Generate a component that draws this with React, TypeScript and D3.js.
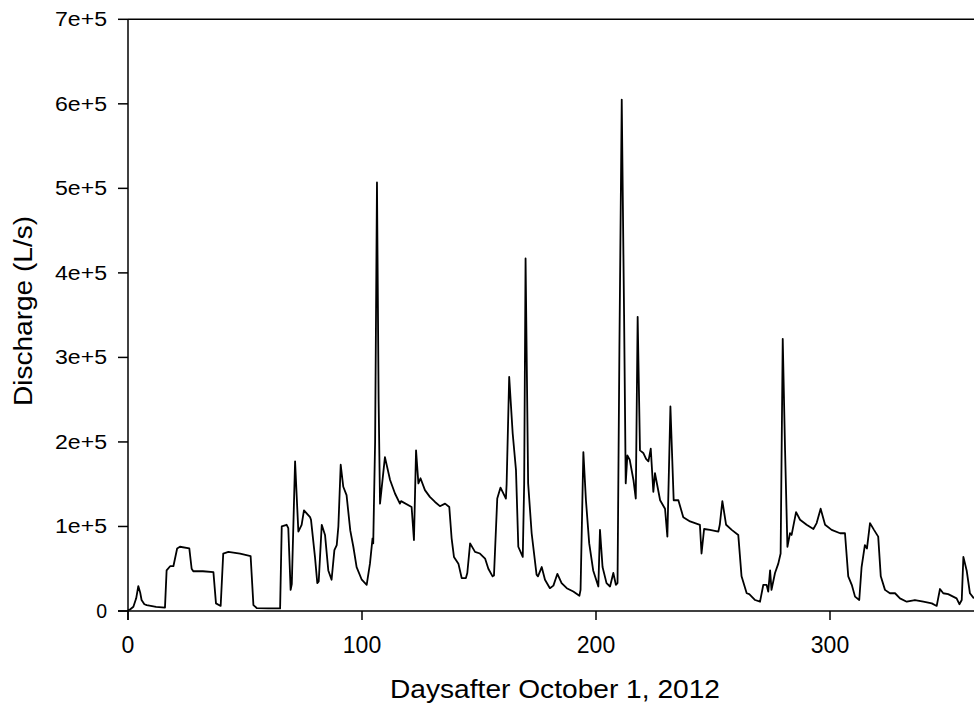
import React from "react";
import * as d3 from "d3";

const days: number[] = [
  0, 1, 2.3, 3.5, 4.4, 5.2, 5.8, 7, 8, 12, 15.8, 16.5, 18, 19.4, 21, 22.2, 26.2, 27.2, 27.9, 32,
  36.5, 37.6, 39.6, 40.7, 42.9, 47.9, 52.4, 53.6, 55, 60, 65, 65.7, 67.8, 68.5, 69.5, 70, 71.4, 72.8, 74.2, 75.2,
  77.8, 78.2, 79.9, 80.9, 81.5, 82.8, 84.2, 85.6, 87, 88.2, 89.2, 89.9, 90.9, 92, 93.4, 95, 96.3, 97.7, 99.9, 102,
  103.4, 104.5, 104.8, 105.6, 106.4, 107.1, 107.7, 109.8, 112, 114.1, 116.2, 116.7, 121.2, 122.2, 123.1, 124.1, 125, 126.9, 129, 131.2,
  133.3, 135.5, 137.3, 138.3, 139.3, 141.2, 142.6, 144.4, 145, 146.2, 148.3, 150.4, 152.6, 154, 155.8, 156.4, 157.8, 159.2, 161.5, 161.8,
  162.9, 164.4, 165.8, 166.8, 168.7, 169.3, 169.9, 171, 172.5, 174.6, 175.2, 176.8, 178.2, 180.3, 181.8, 183.5, 185.3, 187.5, 190.3, 192.9,
  193.4, 194.6, 195.7, 197.1, 198.8, 201, 201.7, 202.8, 204.5, 206, 207.4, 208.5, 209.2, 210, 211, 212, 212.7, 213.4, 214.4, 216,
  217, 217.8, 218.8, 220.2, 221.4, 222.4, 223.4, 224.5, 225.2, 227.4, 229.5, 230.5, 231.8, 233.2, 235.2, 237.3, 240.2, 244.4, 245.1, 246.2,
  248.7, 252.3, 252.9, 254, 255.6, 258, 260.8, 262.2, 264.4, 265.5, 268, 270.1, 271.5, 272.9, 273.6, 274.4, 275, 276.5, 277.9, 278.9,
  279.8, 280.8, 281.8, 282.9, 283.6, 285.5, 287.2, 290, 292.9, 294.3, 296, 297.9, 300.7, 304.3, 306.4, 307.8, 309.3, 310.7, 312.5, 313.5,
  314.9, 315.8, 317.1, 318.8, 320.6, 321.7, 323.5, 325.6, 327.8, 329.9, 332.8, 336.3, 339.9, 343.5, 345.6, 347, 348.4, 350.5, 354.1, 355.3,
  356.3, 357, 358.4, 359.8, 361.5,
];

// discharge in thousands of L/s
const dischargeK: number[] = [
  1, 2, 5, 15, 29.5, 22, 13, 8, 7, 5, 4, 48, 53, 53, 74, 76, 74, 50, 47, 47,
  46, 9, 6, 68, 70, 68, 65, 7, 3.5, 3, 3, 100, 102, 98, 25, 32, 177, 94, 102, 119,
  111, 108, 64, 33, 35, 102, 90, 48, 37, 72, 78, 100, 173, 147, 137, 95, 76, 52, 37, 31,
  56, 86, 80, 200, 507, 250, 127, 182, 155, 139, 127, 130, 123, 84, 190, 151, 157, 143, 135, 129,
  124, 127, 123, 86, 64, 56, 39, 39, 45, 80, 70, 68, 62, 50, 41, 42, 133, 146, 133, 150,
  277, 210, 167, 76, 64, 150, 417, 151, 92, 43, 41, 52, 37, 27, 30, 44, 33, 27, 23, 18,
  25, 188, 131, 80, 48, 29, 96, 52, 33, 29, 45, 31, 33, 309, 605, 350, 151, 184, 179, 155,
  133, 348, 190, 187, 180, 177, 192, 141, 163, 131, 121, 88, 242, 131, 131, 111, 106, 102, 68, 97,
  96, 94, 102, 130, 102, 96, 90, 41, 21, 20, 13, 11, 31, 31, 23, 48, 25, 45, 56, 68,
  322, 190, 76, 92, 90, 117, 108, 102, 97, 104, 121, 102, 96, 92, 92, 41, 31, 17, 13, 52,
  78, 74, 104, 96, 88, 41, 25, 21, 21, 15, 11, 13, 11, 9, 6, 26, 21, 20, 15, 8,
  13, 64, 48, 21, 15,
];

const xTicks: number[] = [0, 100, 200, 300];
const yTicks: number[] = [0, 100000, 200000, 300000, 400000, 500000, 600000, 700000];
const yTickLabels: string[] = ["0", "1e+5", "2e+5", "3e+5", "4e+5", "5e+5", "6e+5", "7e+5"];
const xTitle = "Daysafter October 1, 2012";
const yTitle = "Discharge (L/s)";

export default function App() {
  const W = 974;
  const H = 705;
  const left = 128;
  const top = 19.3;
  const bottom = 611;
  const x = d3.scaleLinear().domain([0, 365]).range([left, left + 365 * 2.34]);
  const y = d3.scaleLinear().domain([0, 700000]).range([bottom, top]);
  const data = days.map((d, i) => ({ d, v: dischargeK[i] * 1000 }));
  const line = d3
    .line<{ d: number; v: number }>()
    .x((p) => x(p.d))
    .y((p) => y(p.v));
  const font = "Liberation Sans, Arial, Helvetica, sans-serif";
  return (
    <svg
      width={W}
      height={H}
      style={{ position: "absolute", left: 0, top: 0, background: "#fff" }}
      fontFamily={font}
    >
      <rect x={0} y={0} width={W} height={H} fill="#fff" />
      {/* frame */}
      <line x1={left} y1={y(700000)} x2={W + 10} y2={y(700000)} stroke="#000" strokeWidth={1.5} />
      <line x1={left} y1={top} x2={left} y2={bottom + 9} stroke="#000" strokeWidth={1.5} />
      <line x1={left - 10} y1={bottom} x2={W + 10} y2={bottom} stroke="#000" strokeWidth={1.5} />
      {yTicks.map((t, i) => (
        <g key={"y" + t}>
          <line x1={left - 10} x2={left} y1={y(t)} y2={y(t)} stroke="#000" strokeWidth={1.5} />
          <text
            x={107}
            y={y(t) + 7}
            fontSize={19.5}
            textAnchor="end"
            fill="#000"
            {...(i > 0 ? { textLength: 52, lengthAdjust: "spacingAndGlyphs" } : {})}
          >
            {yTickLabels[i]}
          </text>
        </g>
      ))}
      {xTicks.map((t) => (
        <g key={"x" + t}>
          <line x1={x(t)} x2={x(t)} y1={bottom} y2={bottom + 9} stroke="#000" strokeWidth={1.5} />
          <text x={x(t)} y={653} fontSize={23} textAnchor="middle" fill="#000">
            {t}
          </text>
        </g>
      ))}
      <path d={line(data) || ""} fill="none" stroke="#000" strokeWidth={1.8} strokeLinejoin="round" />
      <text
        x={555}
        y={698}
        fontSize={25}
        textAnchor="middle"
        textLength={330}
        lengthAdjust="spacingAndGlyphs"
        fill="#000"
      >
        {xTitle}
      </text>
      <text
        transform={`translate(32,311) rotate(-90)`}
        fontSize={25}
        textAnchor="middle"
        textLength={190}
        lengthAdjust="spacingAndGlyphs"
        fill="#000"
      >
        {yTitle}
      </text>
    </svg>
  );
}
